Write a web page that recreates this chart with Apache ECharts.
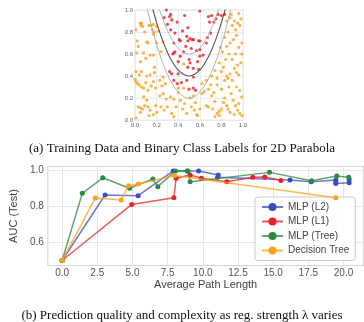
<!DOCTYPE html>
<html><head><meta charset="utf-8">
<script src="https://cdn.jsdelivr.net/npm/echarts@6/dist/echarts.min.js"></script>
<style>html,body{margin:0;padding:0;background:#fff}#c{width:364px;height:322px}</style>
</head><body><div id="c"></div><script>
// ---- (a) scatter data ----
const redPoints = [[0.29,1.0],[0.33,0.96],[0.32,0.94],[0.27,0.93],[0.34,0.91],[0.30,0.87],[0.33,0.82],[0.37,0.79],[0.41,0.73],[0.36,0.70],[0.49,0.84],[0.48,0.76],[0.51,0.74],[0.54,0.73],[0.49,0.72],[0.42,0.72],[0.59,0.72],[0.36,0.61],[0.35,0.60],[0.37,0.62],[0.40,0.53],[0.32,0.44],[0.34,0.42],[0.40,0.42],[0.36,0.36],[0.39,0.33],[0.43,0.34],[0.48,0.36],[0.54,0.29],[0.56,0.27],[0.50,0.28],[0.54,0.39],[0.60,0.99],[0.68,0.94],[0.71,0.95],[0.75,0.92],[0.73,0.89],[0.77,0.96],[0.80,0.95],[0.83,0.96],[0.70,0.79],[0.67,0.75],[0.66,0.70],[0.60,0.58],[0.58,0.53],[0.54,0.47],[0.59,0.46],[0.50,0.55],[0.51,0.52],[0.49,0.48],[0.45,0.62],[0.52,0.65],[0.57,0.63],[0.44,0.81],[0.63,0.59],[0.60,0.72],[0.46,0.95],[0.39,0.89],[0.69,0.89],[0.47,0.67],[0.42,0.58],[0.53,0.73],[0.60,0.64]];
const orangePoints = [[0.05,0.88],[0.06,0.88],[0.055,0.86],[0.07,0.85],[0.13,0.86],[0.15,0.86],[0.17,0.87],[0.20,0.85],[0.16,0.82],[0.18,0.80],[0.17,0.78],[0.22,0.81],[0.01,0.82],[0.09,0.80],[0.11,0.71],[0.03,0.67],[0.08,0.61],[0.015,0.61],[0.10,0.56],[0.05,0.53],[0.14,0.59],[0.17,0.59],[0.18,0.48],[0.01,0.44],[0.06,0.44],[0.04,0.41],[0.11,0.40],[0.14,0.41],[0.10,0.34],[0.17,0.35],[0.01,0.35],[0.02,0.33],[0.04,0.32],[0.06,0.30],[0.08,0.29],[0.15,0.31],[0.19,0.29],[0.23,0.36],[0.25,0.31],[0.00,0.37],[0.12,0.27],[0.18,0.43],[0.26,0.39],[0.28,0.33],[0.40,0.29],[0.45,0.51],[0.24,0.62],[0.26,0.71],[0.02,0.72],[0.12,0.70],[0.20,0.70],[0.08,0.21],[0.11,0.18],[0.03,0.12],[0.05,0.11],[0.07,0.10],[0.09,0.13],[0.12,0.12],[0.14,0.09],[0.19,0.13],[0.20,0.07],[0.17,0.05],[0.01,0.02],[0.05,0.07],[0.13,0.04],[0.24,0.12],[0.27,0.09],[0.30,0.12],[0.23,0.22],[0.29,0.19],[0.26,0.24],[0.33,0.21],[0.36,0.19],[0.40,0.25],[0.42,0.18],[0.38,0.12],[0.44,0.10],[0.46,0.15],[0.48,0.06],[0.51,0.20],[0.55,0.09],[0.57,0.05],[0.58,0.04],[0.60,0.10],[0.62,0.24],[0.64,0.26],[0.66,0.13],[0.68,0.12],[0.71,0.22],[0.73,0.25],[0.74,0.17],[0.76,0.06],[0.78,0.08],[0.80,0.10],[0.78,0.04],[0.34,0.06],[0.36,0.03],[0.52,0.12],[0.56,0.16],[0.54,0.22],[0.45,0.29],[0.62,0.33],[0.66,0.36],[0.68,0.28],[0.70,0.32],[0.71,0.40],[0.74,0.45],[0.76,0.38],[0.78,0.52],[0.80,0.44],[0.82,0.48],[0.83,0.36],[0.85,0.40],[0.86,0.38],[0.88,0.42],[0.90,0.36],[0.92,0.47],[0.94,0.43],[0.95,0.50],[0.96,0.41],[0.98,0.52],[0.90,0.55],[0.87,0.60],[0.84,0.55],[0.81,0.62],[0.79,0.66],[0.85,0.67],[0.88,0.70],[0.91,0.73],[0.94,0.77],[0.96,0.66],[0.99,0.70],[0.93,0.82],[0.90,0.86],[0.95,0.88],[0.97,0.86],[0.92,0.90],[0.88,0.93],[0.89,0.96],[0.96,0.97],[0.98,0.92],[0.85,0.90],[0.86,0.80],[0.83,0.75],[0.93,0.60],[0.99,0.60],[0.87,0.30],[0.89,0.24],[0.91,0.18],[0.93,0.13],[0.95,0.09],[0.97,0.06],[0.99,0.04],[0.92,0.05],[0.88,0.07],[0.85,0.13],[0.83,0.20],[0.80,0.28],[0.94,0.30],[0.97,0.27],[0.99,0.21],[0.86,0.10],[0.96,0.15],[0.76,0.32],[0.82,0.16],[0.72,0.10],[0.74,0.03]];
// contour curves
const curveX = [0.10,0.15,0.20,0.25,0.30,0.35,0.40,0.45,0.50,0.55,0.60,0.65,0.70,0.75,0.80,0.85,0.90];
const curveLow = [1.064,0.862,0.686,0.538,0.416,0.322,0.254,0.214,0.20,0.214,0.254,0.322,0.416,0.538,0.686,0.862,1.064];
const curveMid = [1.264,1.062,0.886,0.738,0.616,0.522,0.454,0.414,0.40,0.414,0.454,0.522,0.616,0.738,0.886,1.062,1.264];
const curveHigh = [1.464,1.262,1.086,0.938,0.816,0.722,0.654,0.614,0.60,0.614,0.654,0.722,0.816,0.938,1.086,1.262,1.464];
const unitTicks = [0,0.2,0.4,0.6,0.8,1.0];

// ---- (b) line data ----
const mlpL2 = [[0,0.5],[3.05,0.862],[5.4,0.858],[7.9,0.995],[8.9,0.995],[9.7,0.995],[11.1,0.973],[11.05,0.96],[16.2,0.945],[17.7,0.935],[19.45,0.945],[19.45,0.925],[19.45,0.935],[20.4,0.93],[20.4,0.947]];
const mlpL1 = [[0,0.5],[4.95,0.81],[7.94,0.847],[8.1,0.954],[9.1,0.972],[9.9,0.955],[11.7,0.935],[13.55,0.96],[14.4,0.962],[15.55,0.942]];
const mlpTree = [[0,0.5],[1.43,0.871],[2.89,0.957],[4.79,0.899],[6.45,0.95],[6.8,0.908],[8.06,0.995],[8.94,0.995],[9.1,0.935],[14.74,0.987],[17.73,0.941],[19.52,0.967],[20.37,0.96]];
const decisionTree = [[0,0.5],[2.35,0.845],[4.19,0.834],[4.72,0.913],[5.41,0.923],[7.99,0.97],[19.45,0.847]];
const xTicks = [0,2.5,5,7.5,10,12.5,15,17.5,20];
const yTicks = [0.6,0.8,1.0];

const seriesNames = ['MLP (L2)','MLP (L1)','MLP (Tree)','Decision Tree'];
const seriesColors = ['#3b4cc0','#e8202a','#2a8a3e','#f9a11b'];
const seriesData = [mlpL2, mlpL1, mlpTree, decisionTree];

const sans = 'Liberation Sans';
const chart = echarts.init(document.getElementById('c'), null, {renderer:'canvas'});

const lineSeries = seriesNames.map((n,i)=>({
  name:n, type:'line', xAxisIndex:1, yAxisIndex:1, data:seriesData[i],
  symbol:'circle', symbolSize:5, showSymbol:true,
  lineStyle:{color:seriesColors[i], width:1.5, opacity:0.75},
  itemStyle:{color:seriesColors[i]},
  z:3+i, animation:false
}));

const curve = (ys,color,w)=>({
  type:'line', xAxisIndex:0, yAxisIndex:0, data:curveX.map((x,i)=>[x,ys[i]]),
  smooth:true, symbol:'none', lineStyle:{color:color,width:w}, z:4, animation:false, silent:true
});

chart.setOption({
  animation:false,
  title:[
    {text:'(a) Training Data and Binary Class Labels for 2D Parabola', left:'center', top:142, padding:0,
     textStyle:{fontFamily:'Liberation Serif', fontSize:13, fontWeight:'normal', color:'#111'}},
    {text:'(b) Prediction quality and complexity as reg. strength \u03bb varies', left:'center', top:309, padding:0,
     textStyle:{fontFamily:'Liberation Serif', fontSize:13, fontWeight:'normal', color:'#111'}}
  ],
  grid:[
    {left:135, top:10, width:108, height:110, show:true, borderColor:'#e6e6e6', borderWidth:1},
    {left:38.5, top:166.4, width:325, height:99.2, show:true, borderColor:'#d4d4d4', borderWidth:1}
  ],
  xAxis:[
    {type:'value', gridIndex:0, min:0, max:1, interval:0.2,
     axisLine:{show:false}, axisTick:{show:false},
     axisLabel:{fontSize:6, color:'#666', margin:2, fontFamily:sans, formatter:v=>v.toFixed(1)},
     splitLine:{lineStyle:{color:'#e8e8e8', width:0.8}}},
    {type:'value', gridIndex:1, min:-1.02, max:21.42,
     name:'Average Path Length', nameLocation:'middle', nameGap:12,
     nameTextStyle:{fontSize:11, color:'#444', fontFamily:sans},
     axisLine:{show:false}, axisTick:{show:false, customValues:xTicks},
     axisLabel:{fontSize:10, color:'#555', margin:3, fontFamily:sans, customValues:xTicks, formatter:v=>v.toFixed(1)},
     splitLine:{show:true, customValues:xTicks, lineStyle:{color:'#e6e6e6', width:1}}}
  ],
  yAxis:[
    {type:'value', gridIndex:0, min:0, max:1, interval:0.2,
     axisLine:{show:false}, axisTick:{show:false},
     axisLabel:{fontSize:6, color:'#666', margin:2, fontFamily:sans, formatter:v=>v.toFixed(1)},
     splitLine:{lineStyle:{color:'#e8e8e8', width:0.8}}},
    {type:'value', gridIndex:1, min:0.472, max:1.02,
     name:'AUC (Test)', nameLocation:'middle', nameGap:22,
     nameTextStyle:{fontSize:11, color:'#444', fontFamily:sans},
     axisLine:{show:false}, axisTick:{show:false, customValues:yTicks},
     axisLabel:{fontSize:10, color:'#555', margin:4, fontFamily:sans, customValues:yTicks, formatter:v=>v.toFixed(1)},
     splitLine:{show:true, customValues:yTicks, lineStyle:{color:'#e6e6e6', width:1}}}
  ],
  legend:{
    data:seriesNames, orient:'vertical', left:255, top:197, padding:[5,6,5,6], itemGap:4.5,
    itemWidth:21, itemHeight:10, backgroundColor:'rgba(255,255,255,0.85)', borderColor:'#cccccc', borderWidth:1, borderRadius:3,
    textStyle:{fontSize:10, color:'#444', fontFamily:sans}
  },
  series:[
    {type:'scatter', xAxisIndex:0, yAxisIndex:0, data:orangePoints, symbolSize:3.2, itemStyle:{color:'#f9a11b'}, z:3},
    {type:'scatter', xAxisIndex:0, yAxisIndex:0, data:redPoints, symbolSize:3.2, itemStyle:{color:'#e3202c'}, z:3},
    curve(curveLow,'#a8a8a8',0.9),
    curve(curveMid,'#555555',1.1),
    curve(curveHigh,'#a8a8a8',0.9),
    ...lineSeries
  ]
});
</script></body></html>
